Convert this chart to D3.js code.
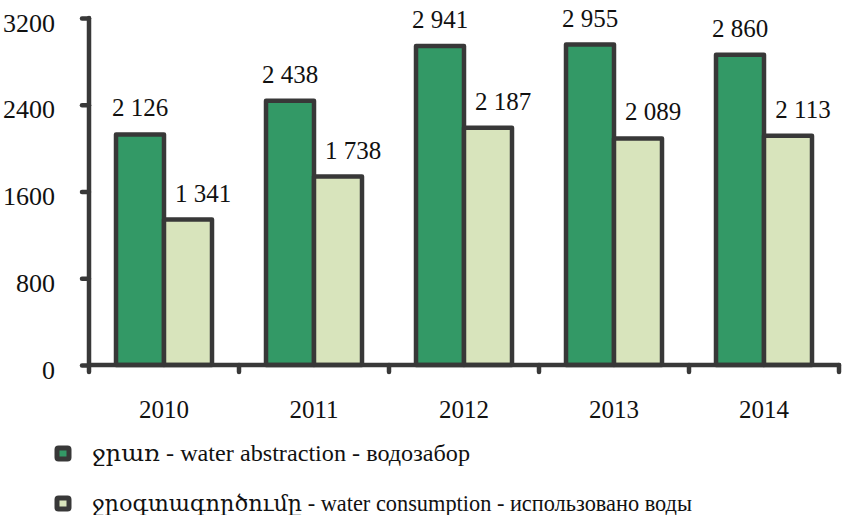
<!DOCTYPE html>
<html>
<head>
<meta charset="utf-8">
<script src="https://cdn.jsdelivr.net/npm/d3@7/dist/d3.min.js"></script>
<style>
  html, body { margin: 0; padding: 0; background: #fff; }
  svg { display: block; }
</style>
</head>
<body>
<svg id="chart" width="843" height="515"></svg>
<script>
const years = ["2010", "2011", "2012", "2013", "2014"];
const abstraction = [2126, 2438, 2941, 2955, 2860];
const consumption = [1341, 1738, 2187, 2089, 2113];
const yTicks = [0, 800, 1600, 2400, 3200];
const seriesNames = [
  "ջրառ - water abstraction - водозабор",
  "ջրօգտագործումը - water consumption - использовано воды"
];
const seriesColors = ["#339966", "#d8e4bc"];

const FONT = "'Liberation Serif', 'DejaVu Serif', serif";
const svg = d3.select("#chart");
const dark = "#383838";
const fmt = v => d3.format(",")(v).replace(/,/g, " ");

const x = d3.scaleBand().domain(years).range([89, 839]).paddingInner(0.36).paddingOuter(0.18);
const xs = d3.scaleBand().domain([0, 1]).range([0, x.bandwidth()]);
const y = d3.scaleLinear().domain([0, 3200]).range([365, 18]);

const series = [abstraction, consumption];

// bars
series.forEach((vals, si) => {
  svg.append("g").selectAll("rect").data(years).join("rect")
    .attr("x", d => x(d) + xs(si))
    .attr("y", (d, i) => y(vals[i]))
    .attr("width", xs.bandwidth())
    .attr("height", (d, i) => y(0) - y(vals[i]))
    .attr("fill", seriesColors[si])
    .attr("stroke", dark)
    .attr("stroke-width", 4.5)
    .attr("stroke-linejoin", "round");
});

// value labels
series.forEach((vals, si) => {
  svg.append("g").selectAll("text").data(years).join("text")
    .attr("x", d => x(d) + xs(si) + xs.bandwidth() / 2 + (si === 1 ? 15 : 0))
    .attr("y", (d, i) => y(vals[i]) - 18)
    .attr("text-anchor", "middle")
    .style("font-family", FONT).style("font-size", "25px").style("fill", "#111")
    .text((d, i) => fmt(vals[i]));
});

// y axis
const yAxis = svg.append("g").attr("transform", "translate(89,0)")
  .call(d3.axisLeft(y).tickValues(yTicks).tickSize(7).tickPadding(27).tickFormat(d => d));
yAxis.select(".domain").remove();
yAxis.append("line").attr("x1", 0).attr("x2", 0).attr("y1", y(3200)).attr("y2", y(0))
  .attr("stroke", dark).attr("stroke-width", 4.5).attr("stroke-linecap", "round");
yAxis.selectAll(".tick line").attr("stroke", dark).attr("stroke-width", 4.5).attr("stroke-linecap", "round");
yAxis.selectAll(".tick text").style("font-family", FONT).style("font-size", "26px").style("fill", "#111")
  .attr("dy", "0.5em");

// x axis
const xAxis = svg.append("g").attr("transform", "translate(0,365)")
  .call(d3.axisBottom(x).tickSize(0).tickPadding(0));
xAxis.select(".domain").remove();
xAxis.selectAll(".tick text").style("font-family", FONT).style("font-size", "25px").style("fill", "#111")
  .attr("y", 53).attr("dy", 0);
xAxis.append("line").attr("x1", 89).attr("x2", 839).attr("y1", 0).attr("y2", 0)
  .attr("stroke", dark).attr("stroke-width", 4.5).attr("stroke-linecap", "round");
const gap = (x.step() - x.bandwidth()) / 2;
const bounds = years.map(d => x(d) - gap).concat([x(years[years.length - 1]) + x.bandwidth() + gap]);
xAxis.selectAll("line.bt").data(bounds).join("line").attr("class", "bt")
  .attr("x1", d => d).attr("x2", d => d).attr("y1", 0).attr("y2", 7)
  .attr("stroke", dark).attr("stroke-width", 4.5).attr("stroke-linecap", "round");

// legend
const legendWidths = [378, 600];
const lg = svg.append("g");
seriesNames.forEach((name, i) => {
  const yy = 448 + i * 50;
  lg.append("rect").attr("x", 57).attr("y", yy).attr("width", 12).attr("height", 11)
    .attr("rx", 1.5).attr("fill", seriesColors[i]).attr("stroke", dark).attr("stroke-width", 5)
    .attr("stroke-linejoin", "round");
  lg.append("text").attr("x", 92).attr("y", yy + 13)
    .style("font-family", FONT).style("font-size", "23px").style("fill", "#111")
    .attr("textLength", legendWidths[i]).attr("lengthAdjust", "spacingAndGlyphs")
    .text(name);
});
</script>
</body>
</html>
